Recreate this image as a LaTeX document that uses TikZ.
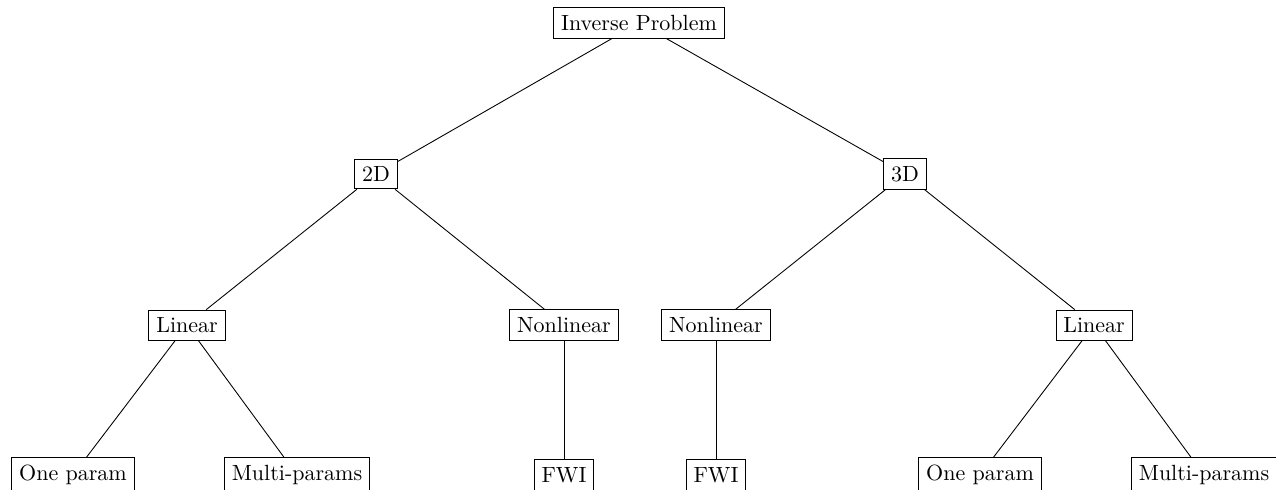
\documentclass[tikz,border=0pt]{standalone}
\begin{document}
\begin{tikzpicture}[x=0.4545pt,y=-0.4545pt,
  box/.style={draw,rectangle,inner sep=3.33pt,line width=0.4pt}]
\clip (0,0) rectangle (1276,489);
\node[box] (root) at (639,23) {Inverse Problem};
\node[box] (d2) at (376,174) {2D};
\node[box] (d3) at (905,174) {3D};
\node[box] (lin2) at (187,325) {Linear};
\node[box] (non2) at (564,325) {Nonlinear};
\node[box] (non3) at (716,325) {Nonlinear};
\node[box] (lin3) at (1094,325) {Linear};
\node[box] (one2) at (73,475) {One param};
\node[box] (mul2) at (297,475) {Multi-params};
\node[box] (fwi2) at (564,475) {FWI};
\node[box] (fwi3) at (716,475) {FWI};
\node[box] (one3) at (980,475) {One param};
\node[box] (mul3) at (1204,475) {Multi-params};
\draw (root) -- (d2);
\draw (root) -- (d3);
\draw (d2) -- (lin2);
\draw (d2) -- (non2);
\draw (d3) -- (non3);
\draw (d3) -- (lin3);
\draw (lin2) -- (one2);
\draw (lin2) -- (mul2);
\draw (non2) -- (fwi2);
\draw (non3) -- (fwi3);
\draw (lin3) -- (one3);
\draw (lin3) -- (mul3);
\end{tikzpicture}
\end{document}
